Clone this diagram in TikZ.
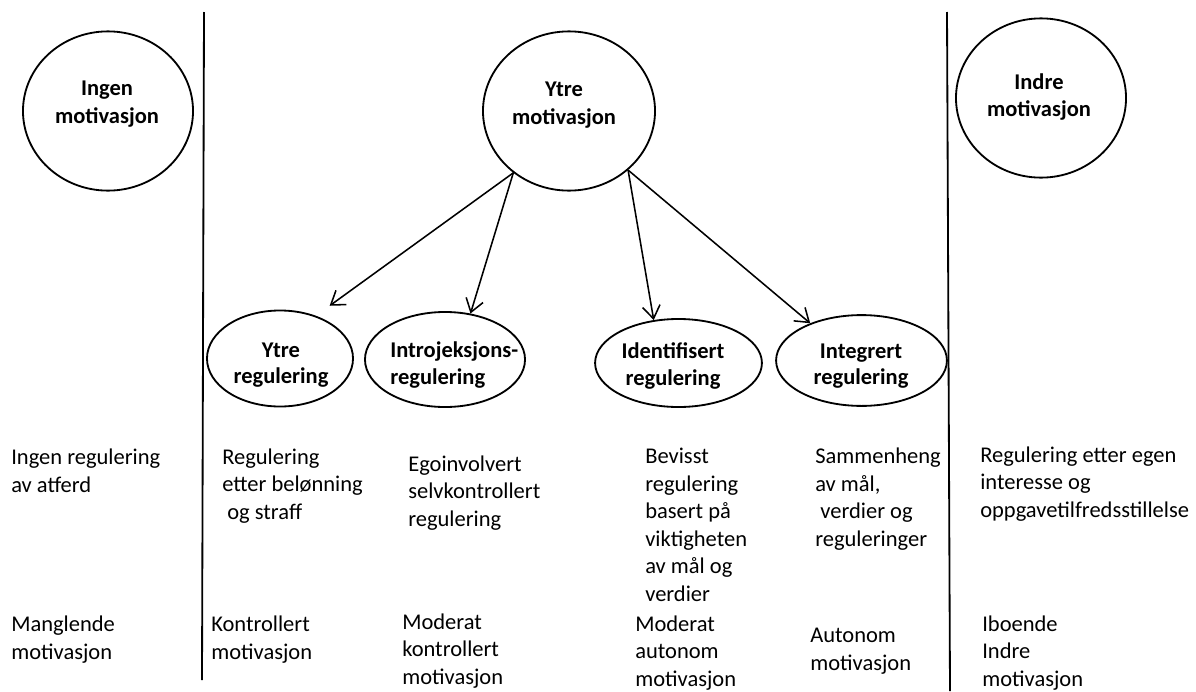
\documentclass[tikz,border=0pt]{standalone}
\usepackage{fontspec}
\setmainfont{Carlito}
\usetikzlibrary{arrows.meta,shapes.geometric}

\begin{document}
\begin{tikzpicture}[x=0.025cm,y=-0.025cm,
	bigcirc/.style={draw,ellipse,line width=1.3pt,minimum width=4.25cm,minimum height=3.98cm,inner sep=0pt},
	regell/.style={draw,ellipse,line width=1.3pt,inner sep=0pt},
	headtxt/.style={font=\bfseries\fontsize{16pt}{19.8pt}\selectfont,align=center,inner sep=0pt},
	regtxt/.style={font=\bfseries\fontsize{16pt}{18.8pt}\selectfont,align=center,inner sep=0pt},
	bodytxt/.style={font=\fontsize{16pt}{19.5pt}\selectfont,align=left,anchor=base west,inner sep=0pt},
	arr/.style={-{Straight Barb[length=3.2mm,width=4.4mm]},line width=1.1pt}]
	
	\useasboundingbox (0,0) rectangle (1196,691);
	
	% dividing lines
	\coordinate (ltop) at (204,12); \coordinate (lbot) at (202,680);
	\coordinate (rtop) at (947,12); \coordinate (rbot) at (950,691);
	\draw[line width=1.3pt] (ltop) -- (lbot);
	\draw[line width=1.3pt] (rtop) -- (rbot);
	
	
	\node[bigcirc] (ingen) at (108,111) {};
	\node[headtxt] (ingentxt) at (107,104) {Ingen\\motivasjon};
	\node[bigcirc,minimum width=4.3cm] (ytre) at (569,111) {};
	\node[headtxt] (ytretxt) at (564,105) {Ytre\\motivasjon};
	\node[bigcirc] (indre) at (1041,98) {};
	\node[headtxt] (indretxt) at (1039,97) {Indre\\motivasjon};
	
	
	\node[regell,minimum width=3.65cm,minimum height=2.4cm] (yreg) at (280,358.5) {};
	\node[regtxt] (yregtxt) at (281,365) {Ytre\\regulering};
	\node[regell,minimum width=4cm,minimum height=2.375cm] (intro) at (445,359.5) {};
	\node[regtxt,align=left,anchor=west] (introtxt) at (390,365) {Introjeksjons-\\regulering};
	\node[regell,minimum width=4.17cm,minimum height=2.2cm] (ident) at (678.5,363) {};
	\node[regtxt] (identtxt) at (673,366) {Identifisert\\regulering};
	\node[regell,minimum width=4.27cm,minimum height=2.27cm] (integ) at (861.5,360.5) {};
	\node[regtxt] (integtxt) at (861,366) {Integrert\\regulering};
	
	
	\draw[arr,shorten >=0.425cm] (ytre.228) -- (yreg.50);
	\draw[arr] (ytre.228) -- (intro.61);
	\draw[arr] (ytre.315) -- (ident.120);
	\draw[arr] (ytre.315) -- (integ.144);
	
	% regulering (base = last line)
	\node[bodytxt] (ingenreg) at (11,492) {Ingen regulering\\av atferd};
	\node[bodytxt] (yrereg) at (222,519) {Regulering\\etter belønning\\\ og straff};
	\node[bodytxt] (introreg) at (408,526) {Egoinvolvert\\selvkontrollert\\regulering};
	\node[bodytxt] (identreg) at (645,601) {Bevisst\\regulering\\basert på\\viktigheten\\av mål og\\verdier};
	\node[bodytxt] (integreg) at (815,546) {Sammenheng\\av mål,\\\ verdier og\\reguleringer};
	\node[bodytxt] (indrereg) at (980,517) {Regulering etter egen\\interesse og\\oppgavetilfredsstillelse};
	
	% motivasjon
	\node[bodytxt] (ingenmot) at (11,659) {Manglende\\motivasjon};
	\node[bodytxt] (ytremot) at (211,659) {Kontrollert\\motivasjon};
	\node[bodytxt] (intromot) at (402,684) {Moderat\\kontrollert\\motivasjon};
	\node[bodytxt] (identmot) at (635,686) {Moderat\\autonom\\motivasjon};
	\node[bodytxt] (integmot) at (810,670) {Autonom\\motivasjon};
	\node[bodytxt] (indremot) at (982,686) {Iboende\\Indre\\motivasjon};
	
\end{tikzpicture}
\end{document}
